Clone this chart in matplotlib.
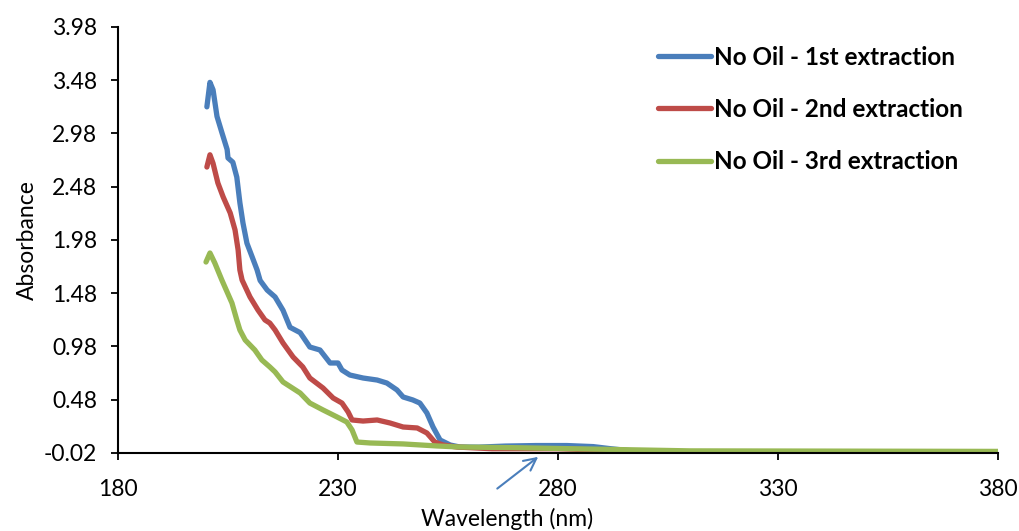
import matplotlib.pyplot as plt

plt.rcParams["font.family"] = ["Lato", "DejaVu Sans"]

# UV absorbance spectra, extraction without oil
wl_1st = [200.2, 200.9, 201.6, 202.5, 203.6, 204.8, 205.0, 206.1, 207.0, 207.7,
          208.4, 209.3, 210.5, 211.6, 212.3, 213.9, 215.7, 217.5, 219.1, 221.4,
          223.6, 225.9, 228.2, 230.0, 230.9, 232.7, 235.7, 238.9, 241.1, 243.4,
          244.8, 247.0, 248.6, 250.2, 251.6, 253.2, 255.5, 257.7, 262, 268,
          275, 282, 288, 292, 298, 310, 340, 380]
abs_1st = [3.23, 3.46, 3.39, 3.14, 2.99, 2.83, 2.75, 2.71, 2.57, 2.33,
           2.14, 1.95, 1.82, 1.70, 1.60, 1.51, 1.445, 1.32, 1.16, 1.11,
           0.975, 0.947, 0.825, 0.825, 0.759, 0.712, 0.684, 0.665, 0.637, 0.572,
           0.506, 0.478, 0.449, 0.356, 0.224, 0.102, 0.055, 0.036, 0.035, 0.045,
           0.05, 0.05, 0.04, 0.02, -0.005, -0.012, -0.012, -0.012]

wl_2nd = [200.2, 200.9, 201.6, 202.7, 203.9, 205.5, 206.6, 207.3, 207.7, 208.2,
          210.0, 211.8, 213.4, 214.5, 215.7, 217.5, 219.8, 222.0, 223.6, 226.6,
          228.9, 230.9, 232.3, 233.2, 235.7, 238.9, 241.8, 244.8, 248.0, 250.2,
          252.0, 253.9, 257.0, 265, 280, 295, 310, 380]
abs_2nd = [2.665, 2.78, 2.70, 2.515, 2.384, 2.234, 2.074, 1.886, 1.698, 1.604,
           1.445, 1.323, 1.229, 1.20, 1.135, 1.013, 0.881, 0.788, 0.684, 0.59,
           0.496, 0.449, 0.365, 0.29, 0.28, 0.29, 0.262, 0.224, 0.215, 0.168,
           0.083, 0.055, 0.036, 0.02, 0.02, 0.0, -0.015, -0.015]

wl_3rd = [200.0, 200.9, 202.0, 203.6, 205.9, 207.0, 207.7, 208.9, 211.1, 212.7,
          214.5, 215.7, 217.5, 221.4, 223.6, 226.6, 229.8, 232.0, 233.2, 234.3,
          237.3, 244.8, 252.5, 257.7, 270, 290, 310, 380]
abs_3rd = [1.773, 1.858, 1.764, 1.604, 1.388, 1.229, 1.135, 1.041, 0.947, 0.853,
           0.788, 0.741, 0.647, 0.543, 0.449, 0.384, 0.318, 0.271, 0.196, 0.083,
           0.074, 0.065, 0.046, 0.036, 0.03, 0.015, 0.0, -0.005]

labels = ["No Oil - 1st extraction", "No Oil - 2nd extraction", "No Oil - 3rd extraction"]
colors = ["#4a7ebb", "#be4b48", "#98b954"]

x_ticks = [180, 230, 280, 330, 380]
y_ticks = [-0.02, 0.48, 0.98, 1.48, 1.98, 2.48, 2.98, 3.48, 3.98]

fig = plt.figure(figsize=(10.19, 5.31), dpi=100)
ax = fig.add_axes([0.1158, 0.1469, 0.8636, 0.8023])

for wl, ab, lab, c in zip([wl_1st, wl_2nd, wl_3rd], [abs_1st, abs_2nd, abs_3rd], labels, colors):
    ax.plot(wl, ab, color=c, lw=3.8, label=lab, solid_capstyle="round", solid_joinstyle="round")

ax.set_xlim(180, 380)
ax.set_ylim(-0.02, 3.98)
ax.set_xticks(x_ticks)
ax.set_yticks(y_ticks)
ax.set_yticklabels([f"{v:.2f}" for v in y_ticks])
ax.tick_params(labelsize=16.5, length=5, width=1.3, direction="out")
ax.tick_params(axis="x", pad=14)
ax.tick_params(axis="y", pad=10)
for s in ["top", "right"]:
    ax.spines[s].set_visible(False)
for s in ["left", "bottom"]:
    ax.spines[s].set_linewidth(1.5)

ax.set_xlabel("Wavelength (nm)", fontsize=16.5)
ax.xaxis.set_label_coords(0.442, -0.128)
ax.set_ylabel("Absorbance", fontsize=16.5, labelpad=4)

leg = ax.legend(loc="upper right", frameon=False, prop={"weight": "bold", "size": 17.5},
                handlelength=2.2, handletextpad=0.12, labelspacing=1.2,
                borderaxespad=0.2, bbox_to_anchor=(0.977, 0.99))

ax.annotate("", xy=(276.0, -0.04), xytext=(265.7, -0.37),
            arrowprops=dict(arrowstyle="->", color="#4a7ebb", lw=1.5, mutation_scale=22),
            annotation_clip=False)

fig.savefig("out.png", dpi=100)
